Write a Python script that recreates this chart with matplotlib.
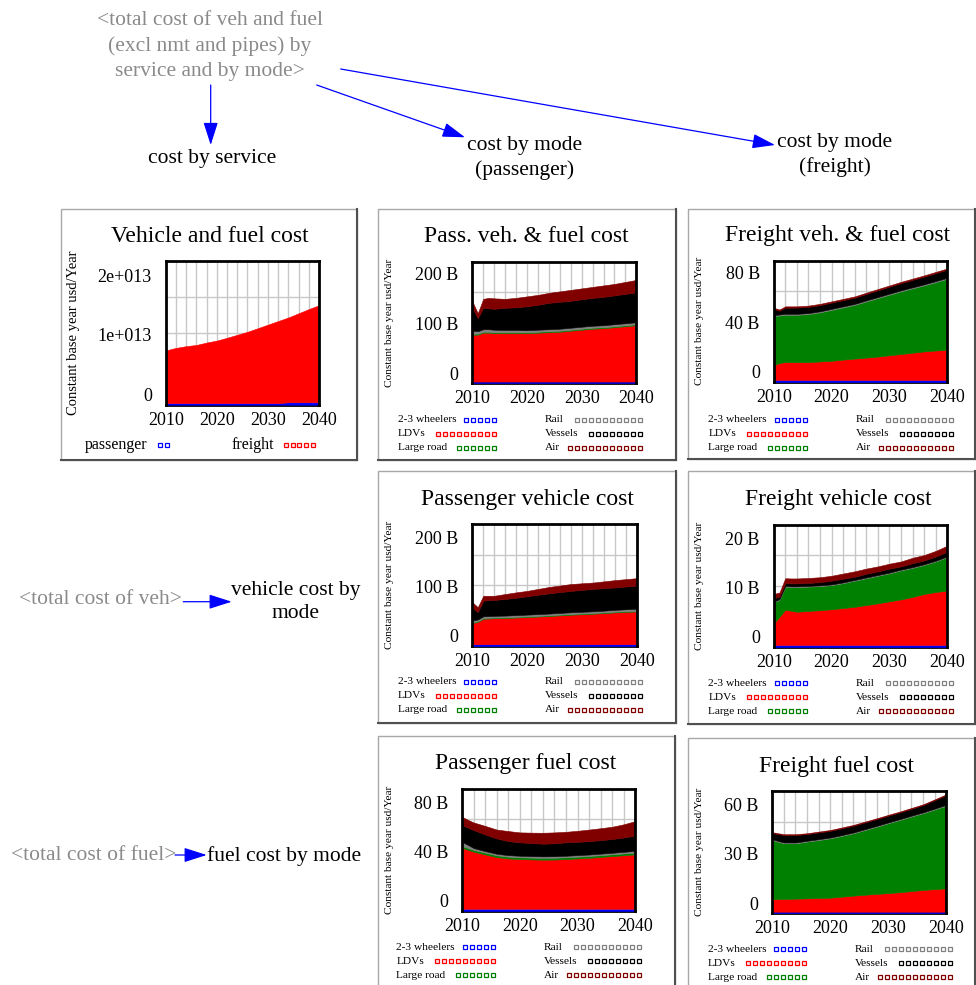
import matplotlib
matplotlib.use('Agg')
import matplotlib.pyplot as plt
from matplotlib.patches import FancyArrowPatch, Rectangle
from matplotlib.lines import Line2D
from matplotlib.transforms import ScaledTranslation

# ---------------- data ----------------
YEARS = [2010, 2011, 2012, 2013, 2014, 2016, 2018, 2020, 2022, 2024,
         2026, 2028, 2030, 2032, 2034, 2036, 2038, 2040]
MODES = ["2-3 wheelers", "LDVs", "Large road", "Rail", "Vessels", "Air"]
SERVICES = ["passenger", "freight"]

# Vehicle and fuel cost (units of 1e13 usd/Year)
VF_PASSENGER = [0.025, 0.025, 0.025, 0.025, 0.025, 0.025, 0.025, 0.025, 0.025,
                0.025, 0.025, 0.025, 0.025, 0.025, 0.04, 0.04, 0.04, 0.04]
VF_FREIGHT = [0.88, 0.905, 0.925, 0.94, 0.955, 0.975, 1.015, 1.048, 1.095,
              1.145, 1.195, 1.255, 1.315, 1.375, 1.42, 1.49, 1.56, 1.625]

# Pass. veh. & fuel cost (B usd/Year)
PVF_2W = [3.0] * 18
PVF_LDV = [94, 94, 98, 98, 97, 97, 97, 97, 98, 99,
           100, 102, 104, 106, 107, 109, 111, 113]
PVF_ROAD = [2.0] * 18
PVF_RAIL = [6, 5, 5, 5, 5, 4.5, 4.5, 4, 4, 4, 4, 4, 4, 4, 4, 4, 4, 4]
PVF_VESSELS = [46, 26, 43, 42, 42, 44.5, 45.5, 48, 50, 53, 54, 54, 55, 56, 57, 58, 59, 60]
PVF_AIR = [13, 10, 18, 21, 21, 18, 19, 20, 20, 20, 21, 22, 22, 22, 23, 23, 24, 25]

# Freight veh. & fuel cost
FVF_2W = [1.6] * 18
FVF_LDV = [11.8, 13.7, 14.4, 14.4, 14.4, 14.4, 14.9, 15.4, 16.4, 17.2,
           18.0, 18.8, 19.9, 20.9, 21.9, 23.0, 23.7, 24.4]
FVF_ROAD = [39.4, 38.2, 38, 38, 38, 38.6, 39.5, 41, 42, 43.2,
            45.2, 47.1, 48.7, 50.4, 51.8, 53.1, 55, 57]
FVF_RAIL = [0.8] * 18
FVF_VESSELS = [5, 3, 5, 5, 5, 5, 5, 5, 5, 5, 5.2, 5.4, 5.6, 5.8, 6, 6.2, 6.4, 6.5]
FVF_AIR = [1.0] * 18

# Passenger vehicle cost
PV_2W = [3.0] * 18
PV_LDV = [43.4, 45.5, 52, 52.5, 53, 53.5, 54.5, 55.5, 56.5, 57.6,
          59, 60.3, 61.3, 62.3, 63.6, 65, 66, 67]
PV_ROAD = [1.5] * 18
PV_RAIL = [3.9, 3.5, 3.5, 3.5, 3.5, 3.5, 3.5, 3.5, 3.5, 3.5,
           3.5, 3.5, 3.5, 3.5, 3.5, 3.8, 3.9, 4.0]
PV_VESSELS = [25.2, 15.1, 32, 32.5, 32.5, 34, 35.5, 37.5, 39.5, 41.4,
              42.5, 43.7, 44.7, 45.7, 45.9, 45.7, 46.6, 47]
PV_AIR = [11.8, 10.1, 10, 9, 8.5, 10.1, 11, 11, 12, 13,
          13.5, 14, 13.5, 13, 14, 15, 15, 15.5]

# Freight vehicle cost
FV_2W = [0.35] * 18
FV_LDV = [4.35, 5.75, 7.15, 6.95, 6.75, 6.9, 7.05, 7.25, 7.5, 7.75,
          8.1, 8.45, 8.85, 9.25, 9.75, 10.35, 10.75, 11.05]
FV_ROAD = [4.3, 3.4, 4.7, 4.8, 5.0, 4.95, 4.9, 4.9, 5.05, 5.3,
           5.45, 5.6, 5.7, 5.9, 5.9, 5.9, 6.2, 6.8]
FV_RAIL = [0.15] * 18
FV_VESSELS = [0.65, 0.55, 0.55, 0.6, 0.6, 0.6, 0.65, 0.75, 0.75, 0.65,
              0.75, 0.75, 0.8, 0.65, 0.8, 0.75, 0.85, 0.95]
FV_AIR = [0.9, 0.8, 1.0, 1.0, 1.0, 1.0, 1.0, 1.0, 1.05, 1.1,
          1.05, 1.0, 1.0, 1.0, 1.1, 1.1, 1.15, 1.2]

# Passenger fuel cost
PF_2W = [1.6] * 18
PF_LDV = [49.6, 48.0, 46.4, 45.3, 44.2, 42.0, 40.9, 40.4, 40.1, 39.9,
          40.0, 40.4, 40.9, 41.4, 42.1, 42.8, 43.5, 44.2]
PF_ROAD = [1.5] * 18
PF_RAIL = [3.3, 2.5, 1.5, 1.3, 1.2, 1.2, 1.2, 1.2, 1.2, 1.2,
           1.2, 1.2, 1.2, 1.2, 1.2, 1.2, 1.3, 1.4]
PF_VESSELS = [13.6, 14, 14.6, 14.1, 13.5, 12.5, 11.4, 10.9, 10.6, 10.3,
              10.5, 10.9, 10.8, 10.9, 11, 11.2, 11.7, 12.3]
PF_AIR = [6.8, 6.4, 6.2, 6.6, 7, 7.2, 8.2, 8.1, 8.5, 8.9,
          8.9, 8.6, 9, 9.4, 9.7, 10, 10.7, 11.9]

# Freight fuel cost
FF_2W = [1.0] * 18
FF_LDV = [7.7, 7.7, 7.7, 7.8, 7.9, 8.1, 8.3, 8.5, 9.1, 9.75,
          10.3, 10.8, 11.3, 11.8, 12.5, 13.2, 13.7, 14.2]
FF_ROAD = [35.9, 34.8, 33.9, 33.8, 33.7, 34.5, 35.3, 36.1, 37, 37.95,
           39.4, 40.9, 42.5, 44, 45.4, 46.7, 48.5, 50.3]
FF_RAIL = [0.5] * 18
FF_VESSELS = [3.7, 4.2, 4.5, 4.5, 4.5, 4.1, 4.1, 4.1, 4.1, 4.1,
              4.1, 4.1, 4.1, 4.1, 4.2, 4.4, 5.1, 5.9]
FF_AIR = [0.5] * 18

XTICKS = [2010, 2020, 2030, 2040]

# ---------------- styling ----------------
W, H = 976, 985
plt.rcParams['font.family'] = ['Liberation Serif', 'DejaVu Serif']
MODE_COLORS = ['#0000ff', '#ff0000', '#008000', '#808080', '#000000', '#800000']
SERVICE_COLORS = ['#0000ff', '#ff0000']
GREY_TXT = '#8a8a8a'
ARROW_C = '#0000ff'

fig = plt.figure(figsize=(W / 100, H / 100), dpi=100)
fig.patch.set_facecolor('white')


def fx(x):
    return x / W


def fy(y):
    return 1 - y / H


def add_text(x, y, s, size, color='black', ha='center', va='center', rot=0, ls=1.2):
    fig.text(fx(x), fy(y), s, fontsize=size, color=color, ha=ha, va=va,
             rotation=rot, linespacing=ls)


def arrow(x0, y0, x1, y1):
    a = FancyArrowPatch((fx(x0), fy(y0)), (fx(x1), fy(y1)),
                        transform=fig.transFigure,
                        arrowstyle='-|>,head_length=1.0,head_width=0.32',
                        mutation_scale=14, color=ARROW_C, lw=0.9,
                        shrinkA=0, shrinkB=0)
    fig.patches.append(a)


def box(x0, y0, x1, y1):
    fig.patches.append(Rectangle((fx(x0), fy(y1)), (x1 - x0) / W, (y1 - y0) / H,
                                 transform=fig.transFigure, fill=False,
                                 edgecolor='#a8a8a8', lw=1.0))
    fig.lines.append(Line2D([fx(x0), fx(x1)], [fy(y1), fy(y1)], transform=fig.transFigure,
                            color='#505050', lw=1.5))
    fig.lines.append(Line2D([fx(x1), fx(x1)], [fy(y0), fy(y1)], transform=fig.transFigure,
                            color='#505050', lw=1.5))


def legend_row(text, tx, ty, color, n, last_x, size, spacing=7.0):
    add_text(tx, ty, text, size, ha='left', va='center')
    xs = [fx(last_x - spacing * (n - 1 - i)) for i in range(n)]
    fig.lines.append(Line2D(xs, [fy(ty)] * n, transform=fig.transFigure, ls='none',
                            marker='s', markersize=2.6,
                            mfc='#ffe8e8' if color == '#ff0000' else 'white',
                            mec=color, mew=0.9))


def chart(bx, plot, title, title_xy, series, colors, ytop, yticks, ytlabels,
          ylab_size=8.2):
    x0, y0, x1, y1 = bx
    box(x0, y0, x1, y1)
    px0, py0, px1, py1 = plot
    ax = fig.add_axes([fx(px0), fy(py1), (px1 - px0) / W, (py1 - py0) / H])
    polys = ax.stackplot(YEARS, *series, colors=colors, linewidth=0, zorder=2)
    for p, c in zip(polys, colors):
        p.set_edgecolor(c)
        p.set_linewidth(0.4)
    ax.set_xlim(2010, 2040)
    ax.set_ylim(0, ytop)
    ax.set_xticks(XTICKS)
    ax.set_xticks(list(range(2010, 2041, 2)), minor=True)
    ax.set_yticks(yticks)
    ax.set_yticklabels(ytlabels)
    ax.set_yticks([ytop * 0.25, ytop * 0.5, ytop * 0.75], minor=True)
    ax.grid(True, which='both', axis='x', color='#c8c8c8', lw=1.0, zorder=0)
    ax.grid(True, which='minor', axis='y', color='#c8c8c8', lw=1.0, zorder=0)
    ax.grid(False, which='major', axis='y')
    ax.set_axisbelow(True)
    ax.tick_params(which='both', length=0)
    ax.tick_params(axis='x', labelsize=13, pad=5)
    ax.tick_params(axis='y', labelsize=13, pad=10)
    for name, sp in ax.spines.items():
        sp.set_linewidth(2.0)
        sp.set_color('black')
        sp.set_zorder(1 if name == 'bottom' else 5)
    off = ScaledTranslation(0, 10 / 100, fig.dpi_scale_trans)
    for lab in ax.get_yticklabels():
        lab.set_transform(lab.get_transform() + off)
    add_text(title_xy[0], title_xy[1], title, 17)
    add_text(x0 + 12, (py0 + py1) / 2, 'Constant base year usd/Year', ylab_size, rot=90)
    return ax


def mode_legend(x0, y0):
    counts = [5, 9, 6, 10, 8, 11]
    for i, (lab, col, n) in enumerate(zip(MODES, MODE_COLORS, counts)):
        c, r = divmod(i, 3)
        tx = x0 + (19.5 if c == 0 else 166.5)
        last = x0 + (115.7 if c == 0 else 261.5)
        legend_row(lab, tx, y0 + 211 + 14 * r, col, n, last, 8.2)


# ---------------- diagram text and arrows ----------------
add_text(210, 46, '<total cost of veh and fuel\n(excl nmt and pipes) by\nservice and by mode>',
         15.5, color=GREY_TXT, ls=1.44)
add_text(212, 158, 'cost by service', 15.5)
add_text(525, 158, 'cost by mode\n(passenger)', 15.5, ls=1.32)
add_text(835, 155, 'cost by mode\n(freight)', 15.5, ls=1.32)
arrow(210.7, 85, 210.7, 145)
arrow(316.7, 85, 465, 137.3)
arrow(340.7, 69, 775, 145)

add_text(100.8, 600, '<total cost of veh>', 15.5, color=GREY_TXT)
add_text(295.5, 602, 'vehicle cost by\nmode', 15.5, ls=1.28)
arrow(183.3, 601.7, 231.7, 601.7)

add_text(93.8, 856, '<total cost of fuel>', 15.5, color=GREY_TXT)
add_text(284.2, 856, 'fuel cost by mode', 15.5)
arrow(175, 855, 206.7, 855)

# ---------------- charts ----------------
chart((61, 209, 357, 460), (165.7, 261.3, 319, 404.7), 'Vehicle and fuel cost', (210, 236),
      [VF_PASSENGER, VF_FREIGHT], SERVICE_COLORS, 2.4, [0, 1, 2],
      ['0', '1e+013', '2e+013'], ylab_size=10.5)
legend_row(SERVICES[0], 85, 444.7, SERVICE_COLORS[0], 2, 167.3, 11.5, spacing=7.3)
legend_row(SERVICES[1], 231.7, 444.7, SERVICE_COLORS[1], 5, 312.7, 11.5, spacing=6.7)

chart((378, 209, 676, 460), (472.3, 262, 636.3, 383), 'Pass. veh. & fuel cost', (526, 236),
      [PVF_2W, PVF_LDV, PVF_ROAD, PVF_RAIL, PVF_VESSELS, PVF_AIR], MODE_COLORS,
      243, [0, 100, 200], ['0', '100 B', '200 B'])
mode_legend(378, 209)

chart((688, 209, 975, 459), (773.7, 260.7, 947.3, 382), 'Freight veh. & fuel cost', (837.5, 236),
      [FVF_2W, FVF_LDV, FVF_ROAD, FVF_RAIL, FVF_VESSELS, FVF_AIR], MODE_COLORS,
      97.5, [0, 40, 80], ['0', '40 B', '80 B'])
mode_legend(689, 209)

chart((378, 471, 676, 723), (472.3, 524.3, 637, 645.7), 'Passenger vehicle cost', (527, 499),
      [PV_2W, PV_LDV, PV_ROAD, PV_RAIL, PV_VESSELS, PV_AIR], MODE_COLORS,
      248, [0, 100, 200], ['0', '100 B', '200 B'])
mode_legend(378, 471)

chart((688, 471, 975, 724), (773.7, 525, 947.3, 646.7), 'Freight vehicle cost', (838, 500),
      [FV_2W, FV_LDV, FV_ROAD, FV_RAIL, FV_VESSELS, FV_AIR], MODE_COLORS,
      24.7, [0, 10, 20], ['0', '10 B', '20 B'])
mode_legend(689, 472)

chart((378, 736, 675, 995), (462, 789, 635.3, 910.7), 'Passenger fuel cost', (526, 763.3),
      [PF_2W, PF_LDV, PF_ROAD, PF_RAIL, PF_VESSELS, PF_AIR], MODE_COLORS,
      99, [0, 40, 80], ['0', '40 B', '80 B'])
mode_legend(377, 736)

chart((688, 738, 975, 995), (772.3, 791, 946.3, 913.3), 'Freight fuel cost', (836.8, 766.7),
      [FF_2W, FF_LDV, FF_ROAD, FF_RAIL, FF_VESSELS, FF_AIR], MODE_COLORS,
      74.4, [0, 30, 60], ['0', '30 B', '60 B'])
mode_legend(688, 738)

fig.savefig('out.png', dpi=100, facecolor='white')
